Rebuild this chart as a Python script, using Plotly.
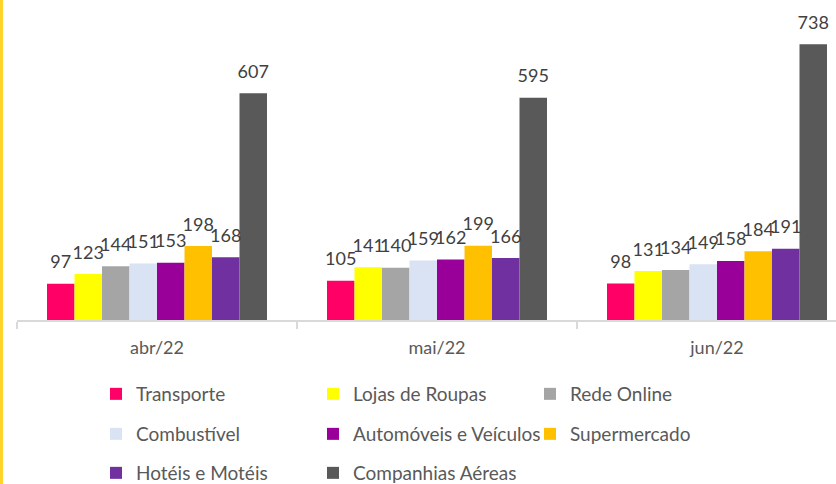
import plotly.graph_objects as go

categories = ["abr/22", "mai/22", "jun/22"]
series_names = ["Transporte", "Lojas de Roupas", "Rede Online", "Combustível",
                "Automóveis e Veículos", "Supermercado", "Hotéis e Motéis", "Companhias Aéreas"]
transporte = [97, 105, 98]
lojas = [123, 141, 131]
rede = [144, 140, 134]
combustivel = [151, 159, 149]
automoveis = [153, 162, 158]
supermercado = [198, 199, 184]
hoteis = [168, 166, 191]
companhias = [607, 595, 738]
values = [transporte, lojas, rede, combustivel, automoveis, supermercado, hoteis, companhias]
colors = ["#FF0066", "#FFFF00", "#A5A5A5", "#DAE3F3", "#990099", "#FFC000", "#7030A0", "#595959"]
legend_rows = ["legend", "legend", "legend", "legend2", "legend2", "legend2", "legend3", "legend3"]

FONT = "Lato"
fig = go.Figure()
for i, (name, vals, col, lg) in enumerate(zip(series_names, values, colors, legend_rows)):
    fig.add_trace(go.Bar(
        x=categories, y=vals, name=name, marker=dict(color=col, line=dict(width=0)),
        offsetgroup=str(i), legend=lg, hoverinfo="skip",
    ))
for i, vals in enumerate(values):
    fig.add_trace(go.Scatter(
        x=categories, y=vals, mode="markers+text", offsetgroup=str(i),
        marker=dict(size=16, opacity=0), text=[str(v) for v in vals], textposition="top center",
        textfont=dict(family=FONT, size=18, color="#404040"), cliponaxis=False,
        showlegend=False, hoverinfo="skip",
    ))

W, H = 836, 484
L, R, T, B = 17, 0, 10, 164
plot_w = W - L - R
plot_h = H - T - B

leg_common = dict(orientation="h", xanchor="left", yanchor="middle", x=(96 - L) / plot_w,
                  font=dict(family=FONT, size=19, color="#595959"), entrywidth=172,
                  bgcolor="rgba(0,0,0,0)", itemwidth=30, traceorder="normal")

def ypaper(py):
    return (H - B - py) / plot_h

fig.update_layout(
    width=W, height=H, margin=dict(l=L, r=R, t=T, b=B, autoexpand=False),
    paper_bgcolor="white", plot_bgcolor="white",
    barmode="group", bargap=60 / 280, bargroupgap=0,
    scattermode="group", scattergap=60 / 280,
    showlegend=True,
    legend=dict(**leg_common, y=ypaper(394)),
    legend2=dict(**leg_common, y=ypaper(434)),
    legend3=dict(**leg_common, y=ypaper(473)),
    xaxis=dict(range=[-0.5, 2.5 - 21 / 280], showline=True, linecolor="#D9D9D9", linewidth=2,
               ticks="outside", tickson="boundaries", ticklen=7, tickcolor="#D9D9D9", tickwidth=2,
               ticklabelstandoff=10,
               tickfont=dict(family=FONT, size=18, color="#595959"), showgrid=False, fixedrange=True),
    yaxis=dict(range=[0, 830], visible=False, showgrid=False, zeroline=False, fixedrange=True),
    shapes=[dict(type="line", xref="paper", yref="paper", x0=-15.5 / plot_w, x1=-15.5 / plot_w,
                 y0=-B / plot_h, y1=(plot_h + T) / plot_h, line=dict(color="#FFD42A", width=3))],
)
fig.write_html("out.html", config={"displayModeBar": False},
               post_script="document.body.style.margin='0px';")
